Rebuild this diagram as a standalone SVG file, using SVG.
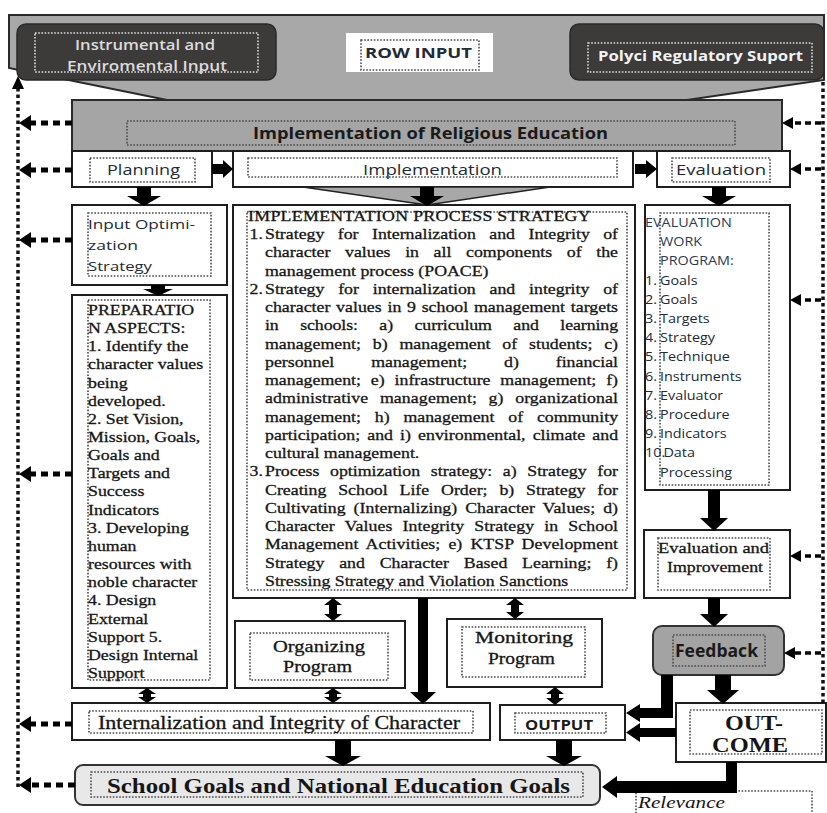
<svg xmlns="http://www.w3.org/2000/svg" width="827" height="813" viewBox="0 0 827 813">
<defs>
<style>
.box{fill:#fff;stroke:#1e1e1e;stroke-width:2}
.gray{fill:#a8a8a8;stroke:#2a2a2a;stroke-width:2}
.dark{fill:#3d3b3a;stroke:#2a2a2a;stroke-width:1.5}
.dot{fill:none;stroke:#4a4a4a;stroke-width:1.6;stroke-dasharray:1.6 1.6}
.dotw{fill:none;stroke:#dedede;stroke-width:1.6;stroke-dasharray:1.6 1.6}
.serif{font-family:"Liberation Serif","Times New Roman",serif;fill:#161616}
.heavy{stroke:#161616;stroke-width:0.3}
.sans{font-family:"Open Sans","Liberation Sans",Arial,sans-serif;fill:#222a36}
.light{fill:#dcdcdc}
.blk{fill:#000}
.fl{fill:none;stroke:#000;stroke-width:5;stroke-dasharray:7 5}
.fr{fill:none;stroke:#000;stroke-width:3.5;stroke-dasharray:6 4}
.vl{fill:none;stroke:#111;stroke-width:3.5;stroke-dasharray:3.5 3}
</style>
</defs>
<rect width="827" height="813" fill="#fff"/>

<!-- outer input frame -->
<g id="input-frame">
<polygon class="gray" points="9,15 824,15 824,80 687,100 167,100 9,68"/>
</g>

<g id="instrumental-input">
<rect class="dark" x="17" y="24" width="259" height="56" rx="9"/>
<rect class="dotw" x="35" y="33" width="223" height="39"/>
<text class="sans light" font-size="13.5" font-weight="600" x="75" y="50" textLength="140" lengthAdjust="spacingAndGlyphs">Instrumental and</text>
<text class="sans light" font-size="13.5" font-weight="600" x="67" y="71" textLength="160" lengthAdjust="spacingAndGlyphs">Enviromental Input</text>
</g>

<g id="row-input">
<rect x="346" y="33" width="147" height="39" fill="#fff"/>
<rect class="dot" x="361" y="40" width="118" height="30"/>
<text class="sans" font-size="14" font-weight="700" x="365" y="58" textLength="107" lengthAdjust="spacingAndGlyphs">ROW INPUT</text>
</g>

<g id="policy-support">
<rect class="dark" x="570" y="24" width="254" height="56" rx="9"/>
<rect class="dotw" x="588" y="43" width="224" height="29"/>
<text class="sans" style="fill:#f2f2f2" font-size="14" font-weight="700" x="598" y="61" textLength="205" lengthAdjust="spacingAndGlyphs">Polyci Regulatory Suport</text>
</g>

<g id="religious-education">
<rect class="gray" x="72" y="100" width="710" height="51" style="fill:#a5a5a5"/>
<rect class="dot" x="127" y="121" width="608" height="24"/>
<text class="sans" style="fill:#1a1a1a" font-size="16" font-weight="700" x="253" y="139" textLength="355" lengthAdjust="spacingAndGlyphs">Implementation of Religious Education</text>
</g>

<g id="planning">
<rect class="box" x="72" y="151" width="140" height="36"/>
<rect class="dot" x="90" y="158" width="105" height="24"/>
<text class="sans" font-size="15" x="107" y="175" textLength="73" lengthAdjust="spacingAndGlyphs">Planning</text>
</g>

<g id="implementation">
<rect class="box" x="233" y="151" width="400" height="36"/>
<rect class="dot" x="248" y="158" width="369" height="19"/>
<text class="sans" font-size="15" x="363" y="175" textLength="139" lengthAdjust="spacingAndGlyphs">Implementation</text>
<polygon points="303,187 550,187 427,205" fill="#a8a8a8" stroke="#222" stroke-width="1.5"/>
</g>

<g id="evaluation">
<rect class="box" x="657" y="151" width="133" height="36"/>
<rect class="dot" x="672" y="158" width="98" height="24"/>
<text class="sans" font-size="15" x="676" y="175" textLength="90" lengthAdjust="spacingAndGlyphs">Evaluation</text>
</g>

<g id="input-optimization">
<rect class="box" x="72" y="205" width="155" height="80"/>
<rect class="dot" x="88" y="213" width="123" height="63"/>
<text class="sans" font-size="13.5" x="88" y="229" textLength="107" lengthAdjust="spacingAndGlyphs">Input Optimi-</text>
<text class="sans" font-size="13.5" x="88" y="250" textLength="50" lengthAdjust="spacingAndGlyphs">zation</text>
<text class="sans" font-size="13.5" x="88" y="271" textLength="64" lengthAdjust="spacingAndGlyphs">Strategy</text>
</g>

<g id="preparation-aspects">
<rect class="box" x="72" y="295" width="155" height="393"/>
<rect class="dot" x="88" y="300" width="122" height="380"/>
<g class="serif heavy" font-size="15.5" transform="translate(88 0) scale(1.15 1)">
<text x="0" y="315">PREPARATIO</text>
<text x="0" y="333.2">N ASPECTS:</text>
<text x="0" y="351.3">1. Identify the</text>
<text x="0" y="369.5">character values</text>
<text x="0" y="387.6">being</text>
<text x="0" y="405.8">developed.</text>
<text x="0" y="423.9">2. Set Vision,</text>
<text x="0" y="442.1">Mission, Goals,</text>
<text x="0" y="460.2">Goals and</text>
<text x="0" y="478.4">Targets and</text>
<text x="0" y="496.5">Success</text>
<text x="0" y="514.7">Indicators</text>
<text x="0" y="532.8">3. Developing</text>
<text x="0" y="551">human</text>
<text x="0" y="569.1">resources with</text>
<text x="0" y="587.3">noble character</text>
<text x="0" y="605.4">4. Design</text>
<text x="0" y="623.6">External</text>
<text x="0" y="641.7">Support 5.</text>
<text x="0" y="659.9">Design Internal</text>
<text x="0" y="678">Support</text>
</g>
</g>

<g id="process-strategy">
<rect class="box" x="233" y="205" width="402" height="393"/>
<rect class="dot" x="247" y="212" width="380" height="378"/>
<g class="serif heavy" font-size="15.5" transform="translate(265 0) scale(1.15 1)">
<text x="-14.8" y="221" textLength="298">IMPLEMENTATION PROCESS STRATEGY</text>
<text x="-13.5" y="239.3">1.</text>
<text x="0" y="239.3" word-spacing="7.8" textLength="307">Strategy for Internalization and Integrity of</text>
<text x="0" y="257.5" word-spacing="8.8" textLength="307">character values in all components of the</text>
<text x="0" y="275.8">management process (POACE)</text>
<text x="-13.5" y="294">2.</text>
<text x="0" y="294" word-spacing="8.1" textLength="307">Strategy for internalization and integrity of</text>
<text x="0" y="312.3" word-spacing="1.1" textLength="307">character values in 9 school management targets</text>
<text x="0" y="330.5" word-spacing="14.9" textLength="307">in schools: a) curriculum and learning</text>
<text x="0" y="348.8" word-spacing="6.4" textLength="307">management; b) management of students; c)</text>
<text x="0" y="367" word-spacing="28.2" textLength="307">personnel management; d) financial</text>
<text x="0" y="385.3" word-spacing="4.7" textLength="307">management; e) infrastructure management; f)</text>
<text x="0" y="403.5" word-spacing="6.1" textLength="307">administrative management; g) organizational</text>
<text x="0" y="421.8" word-spacing="8.1" textLength="307">management; h) management of community</text>
<text x="0" y="440" word-spacing="2.3" textLength="307">participation; and i) environmental, climate and</text>
<text x="0" y="458.3">cultural management.</text>
<text x="-13.5" y="476.5">3.</text>
<text x="0" y="476.5" word-spacing="5.4" textLength="307">Process optimization strategy: a) Strategy for</text>
<text x="0" y="494.8" word-spacing="6.4" textLength="307">Creating School Life Order; b) Strategy for</text>
<text x="0" y="513" word-spacing="2.9" textLength="307">Cultivating (Internalizing) Character Values; d)</text>
<text x="0" y="531.3" word-spacing="4.8" textLength="307">Character Values Integrity Strategy in School</text>
<text x="0" y="549.5" word-spacing="3.1" textLength="307">Management Activities; e) KTSP Development</text>
<text x="0" y="567.8" word-spacing="9" textLength="307">Strategy and Character Based Learning; f)</text>
<text x="0" y="586">Stressing Strategy and Violation Sanctions</text>
</g>
</g>

<g id="evaluation-program">
<rect class="box" x="645" y="205" width="145" height="285"/>
<rect class="dot" x="660" y="213" width="109" height="272"/>
<g class="sans" font-size="12.5" transform="translate(660 0) scale(1.15 1)">
<text x="-13" y="227" style="fill:#2c3a55">EVALUATION</text>
<text x="0" y="246.2" style="fill:#2c3a55">WORK</text>
<text x="0" y="265.4" style="fill:#2c3a55">PROGRAM:</text>
<text x="-13" y="284.6">1.</text><text x="0" y="284.6">Goals</text>
<text x="-13" y="303.8">2.</text><text x="0" y="303.8">Goals</text>
<text x="-13" y="323">3.</text><text x="0" y="323">Targets</text>
<text x="-13" y="342.2">4.</text><text x="0" y="342.2">Strategy</text>
<text x="-13" y="361.4">5.</text><text x="0" y="361.4">Technique</text>
<text x="-13" y="380.6">6.</text><text x="0" y="380.6">Instruments</text>
<text x="-13" y="399.8">7.</text><text x="0" y="399.8">Evaluator</text>
<text x="-13" y="419">8.</text><text x="0" y="419">Procedure</text>
<text x="-13" y="438.2">9.</text><text x="0" y="438.2">Indicators</text>
<text x="-13" y="457.4">10.</text><text x="3" y="457.4">Data</text>
<text x="0" y="476.6">Processing</text>
</g>
</g>

<g id="evaluation-improvement">
<rect class="box" x="644" y="530" width="146" height="68"/>
<rect class="dot" x="658" y="538" width="112" height="52"/>
<text class="serif heavy" font-size="15.5" x="658" y="553" textLength="111" lengthAdjust="spacingAndGlyphs">Evaluation and</text>
<text class="serif heavy" font-size="15.5" x="667" y="572" textLength="96" lengthAdjust="spacingAndGlyphs">Improvement</text>
</g>

<g id="feedback">
<rect x="653" y="626" width="131" height="49" rx="9" fill="#a3a3a3" stroke="#333" stroke-width="2"/>
<rect class="dot" x="673" y="635" width="92" height="31"/>
<text class="sans" style="fill:#1a1a1a" font-size="17" font-weight="700" x="675" y="657" textLength="83" lengthAdjust="spacingAndGlyphs">Feedback</text>
</g>

<g id="organizing-program">
<rect class="box" x="235" y="621" width="170" height="67"/>
<rect class="dot" x="250" y="633" width="138" height="47"/>
<text class="serif heavy" font-size="17" x="273" y="652" textLength="92" lengthAdjust="spacingAndGlyphs">Organizing</text>
<text class="serif heavy" font-size="17" x="283" y="672" textLength="69" lengthAdjust="spacingAndGlyphs">Program</text>
</g>

<g id="monitoring-program">
<rect class="box" x="447" y="619" width="155" height="68"/>
<rect class="dot" x="462" y="627" width="123" height="50"/>
<text class="serif heavy" font-size="17" x="475" y="643" textLength="98" lengthAdjust="spacingAndGlyphs">Monitoring</text>
<text class="serif heavy" font-size="17" x="488" y="664" textLength="67" lengthAdjust="spacingAndGlyphs">Program</text>
</g>

<g id="internalization">
<rect class="box" x="72" y="703" width="418" height="37"/>
<rect class="dot" x="89" y="711" width="384" height="22"/>
<text class="serif heavy" font-size="19" x="98" y="729" textLength="362" lengthAdjust="spacingAndGlyphs">Internalization and Integrity of Character</text>
</g>

<g id="output">
<rect class="box" x="500" y="705" width="125" height="35"/>
<rect class="dot" x="515" y="713" width="91" height="20"/>
<text class="sans" style="fill:#1a1a1a" font-size="14" font-weight="700" x="525" y="730" textLength="68" lengthAdjust="spacingAndGlyphs">OUTPUT</text>
</g>

<g id="outcome">
<rect class="box" x="676" y="703" width="150" height="59"/>
<rect class="dot" x="690" y="710" width="132" height="44"/>
<text class="serif" font-size="20" font-weight="700" x="725" y="730" textLength="58" lengthAdjust="spacingAndGlyphs">OUT-</text>
<text class="serif" font-size="20" font-weight="700" x="712" y="752" textLength="76" lengthAdjust="spacingAndGlyphs">COME</text>
</g>

<g id="school-goals">
<rect x="75" y="765" width="525" height="40" rx="8" fill="#e8e8e8" stroke="#333" stroke-width="2"/>
<rect class="dot" x="91" y="772" width="492" height="25"/>
<text class="serif" font-size="21" font-weight="700" x="107" y="793" textLength="463" lengthAdjust="spacingAndGlyphs">School Goals and National Education Goals</text>
</g>

<g id="relevance">
<rect class="dot" x="636" y="791" width="176" height="40"/>
<text class="serif" font-size="17" font-style="italic" x="638" y="808" textLength="87" lengthAdjust="spacingAndGlyphs">Relevance</text>
</g>

<g id="connectors">
<!-- main flow arrows -->
<polygon class="blk" points="137,187 151,187 151,196 161,196 144,206 127,196 137,196"/>
<polygon class="blk" points="420,187 434,187 434,196 444,196 427,206 410,196 420,196"/>
<polygon class="blk" points="712,187 726,187 726,196 736,196 719,206 702,196 712,196"/>
<polygon class="blk" points="151,285 165,285 165,289 173,289 158,296 143,289 151,289"/>
<polygon class="blk" points="708,490 720,490 720,518 728,518 714,531 700,518 708,518"/>
<polygon class="blk" points="708,598 720,598 720,614 728,614 714,627 700,614 708,614"/>
<polygon class="blk" points="715,675 731,675 731,690 739,690 723,704 707,690 715,690"/>
<polygon class="blk" points="418,598 428,598 428,692 436,692 423,704 410,692 418,692"/>
<polygon class="blk" points="335,740 351,740 351,756 361,756 343,766 325,756 335,756"/>
<polygon class="blk" points="556,740 572,740 572,756 582,756 564,766 546,756 556,756"/>
<polygon class="blk" points="212,164 223,164 223,160 233,169 223,178 223,174 212,174"/>
<polygon class="blk" points="635,164 646,164 646,160 657,169 646,178 646,174 635,174"/>
<polygon class="blk" points="661,675 673,675 673,718 640,718 640,722 626,713 640,704 640,708 661,708"/>
<polygon class="blk" points="676,728 640,728 640,723 626,732.5 640,742 640,737 676,737"/>
<polygon class="blk" points="726,762 737,762 737,793 617,793 617,798 602,787 617,776 617,781 726,781"/>
<!-- two-way links -->
<polygon class="blk" points="147,688 156,694 151,694 151,697 156,697 147,703 138,697 143,697 143,694 138,694"/>
<polygon class="blk" points="333,688 342,694 337,694 337,697 342,697 333,703 324,697 329,697 329,694 324,694"/>
<polygon class="blk" points="333,598 342,605 337,605 337,614 342,614 333,621 324,614 329,614 329,605 324,605"/>
<polygon class="blk" points="515,598 524,605 519,605 519,612 524,612 515,619 506,612 511,612 511,605 506,605"/>
<polygon class="blk" points="555,687 564,694 559,694 559,698 564,698 555,705 546,698 551,698 551,694 546,694"/>
<!-- left feedback loop -->
<path class="vl" d="M18 88 V790"/>
<polygon class="blk" points="18,76 12,89 24,89"/>
<path class="fl" d="M72 123 H31 M72 170 H31 M72 240 H31 M72 474 H31 M72 724 H31 M75 785 H31"/>
<polygon class="blk" points="19,123 31,115 31,131"/>
<polygon class="blk" points="19,170 31,162 31,178"/>
<polygon class="blk" points="19,240 31,232 31,248"/>
<polygon class="blk" points="19,474 31,466 31,482"/>
<polygon class="blk" points="19,724 31,716 31,732"/>
<polygon class="blk" points="19,785 31,777 31,793"/>
<!-- right feedback loop -->
<path class="vl" d="M823 82 V703"/>
<path class="fr" d="M821 123 H792 M821 169 H800 M821 300 H800 M821 556 H800 M821 653 H794"/>
<polygon class="blk" points="782,123 793,117 793,129"/>
<polygon class="blk" points="790,169 801,163 801,175"/>
<polygon class="blk" points="790,300 801,294 801,306"/>
<polygon class="blk" points="790,556 801,550 801,562"/>
<polygon class="blk" points="784,653 795,647 795,659"/>
</g>
</svg>
